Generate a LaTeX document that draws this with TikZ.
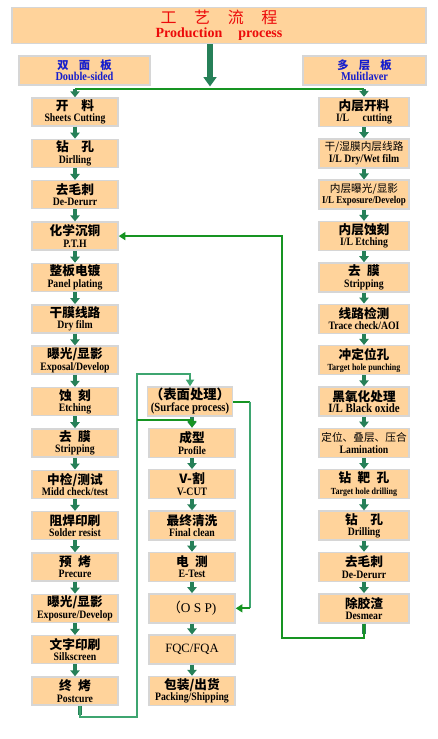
\documentclass[tikz,border=0pt]{standalone}
\usepackage{fontspec}
\setmainfont{Liberation Serif}
\newfontfamily\cnfont{Noto Sans CJK SC}
\newfontfamily\enfont{Liberation Serif}[FakeStretch=0.86]
\usetikzlibrary{calc,arrows.meta}

\definecolor{boxfill}{RGB}{255,211,155}
\definecolor{boxline}{RGB}{214,214,214}
\definecolor{flowgreen}{RGB}{38,128,88}
\definecolor{bargreen}{RGB}{22,148,34}
\definecolor{loopgreen}{RGB}{62,165,112}
\definecolor{titlered}{RGB}{236,10,10}
\definecolor{labelblue}{RGB}{22,30,205}

\newcommand{\cnthin}{\mdseries\fontsize{8}{8}\selectfont}
\newcommand{\ensmall}{\fontsize{7}{7}\selectfont}

\tikzset{
	stepbox/.style={draw=boxline, line width=1.1pt, fill=boxfill, minimum width=64.5pt, minimum height=21pt, inner sep=0pt, align=center, font=\fontsize{9.5}{8.5}\selectfont},
	labelbox/.style={stepbox, minimum width=98.25pt, minimum height=21.75pt, text=labelblue},
	flowarrow/.style={flowgreen, line width=3pt, -{Triangle[width=7pt,length=4.5pt]}},
	bigarrow/.style={flowgreen, line width=4.5pt, -{Triangle[width=9.5pt,length=7pt]}},
	barline/.style={bargreen, line width=1.5pt},
	loopline/.style={loopgreen, line width=1.5pt},
	looptip/.style={-{Triangle[width=6pt,length=5pt]}}
}

\begin{document}
\begin{tikzpicture}[x=0.75pt,y=-0.75pt]
	\useasboundingbox (0,0) rectangle (437,739);
	
	% given
	\pgfmathsetmacro{\rowTop}{112}% first row centre
	\pgfmathsetmacro{\pitch}{41.36}% row to row
	
	\node[stepbox, minimum width=310.5pt, minimum height=27pt, text=titlered, font=\fontsize{12}{10.5}\selectfont] (title) at (219,25.5)
		{{\cnfont 工\hspace{1.1em}艺\hspace{1.1em}流\hspace{1.1em}程}\\{\bfseries\fontsize{10.5}{10.5}\selectfont Production\hspace{12pt}process}};
	
	\node[labelbox] (dbl) at (84.5,70.5) {{\cnfont\bfseries\fontsize{8.5}{8.5}\selectfont 双\hspace{0.9em}面\hspace{0.9em}板}\\{\enfont\bfseries\fontsize{9}{9}\selectfont Double-sided}};
	\node[labelbox, minimum width=92.25pt] (mlb) at (364.5,70.5) {{\cnfont\bfseries\fontsize{8.5}{8.5}\selectfont 多\hspace{0.9em}层\hspace{0.9em}板}\\{\enfont\bfseries\fontsize{9}{9}\selectfont Mulitlaver}};
	
	% double-sided
	\foreach [count=\i] \zh/\eng in {
		{开\hspace{1em}料}/{Sheets Cutting},
		{钻\hspace{1em}孔}/{Dirlling},
		{去毛刺}/{De-Derurr},
		{化学沉铜}/{P.T.H},
		{整板电镀}/{Panel plating},
		{干膜线路}/{Dry film},
		{曝光/显影}/{Exposal/Develop},
		{蚀\hspace{0.5em}刻}/{Etching},
		{去\hspace{0.5em}膜}/{Stripping},
		{中检/测试}/{Midd check/test},
		{阻焊印刷}/{Solder resist},
		{预\hspace{0.5em}烤}/{Precure},
		{曝光/显影}/{Exposure/Develop},
		{文字印刷}/{Silkscreen},
		{终\hspace{0.5em}烤}/{Postcure}}
	{
		\node[stepbox] (L\i) at (75,{\rowTop+(\i-1)*\pitch}) {{\cnfont\bfseries\zh}\\{\enfont\bfseries\fontsize{8.5}{8.5}\selectfont\eng}};
	}
	
	% multilayer
	\foreach [count=\i] \zh/\eng in {
		{内层开料}/{I/L\hspace{1.2em}cutting},
		{\cnthin 干/湿膜内层线路}/{I/L Dry/Wet film},
		{\cnthin 内层曝光/显影}/{\fontsize{7.8}{7.8}\selectfont I/L Exposure/Develop},
		{内层蚀刻}/{I/L Etching},
		{去\hspace{0.5em}膜}/{Stripping},
		{线路检测}/{Trace check/AOI},
		{冲定位孔}/{\ensmall Target hole punching},
		{黑氧化处理}/{\fontsize{9.5}{9.5}\selectfont I/L Black oxide},
		{\cnthin 定位、叠层、压合}/{Lamination},
		{钻\hspace{0.5em}靶\hspace{0.5em}孔}/{\ensmall Target hole drilling},
		{钻\hspace{1em}孔}/{Drilling},
		{去毛刺}/{De-Derurr},
		{除胶渣}/{Desmear}}
	{
		\node[stepbox, minimum width=67.5pt, minimum height=21.75pt] (R\i) at (364,{\rowTop+(\i-1)*\pitch}) {{\cnfont\bfseries\zh}\\{\enfont\bfseries\fontsize{8.5}{8.5}\selectfont\eng}};
	}
	
	% finishing
	\node[stepbox, minimum width=63.75pt, minimum height=21.75pt, font=\fontsize{10}{9}\selectfont] (M1) at (190,{\rowTop+7*\pitch}) {{\cnfont\bfseries （表面处理）}\\{\enfont\bfseries\fontsize{9.3}{9.3}\selectfont (Surface process)}};
	\node[stepbox, minimum height=21.75pt] (M2) at (192,{\rowTop+8*\pitch}) {{\cnfont\bfseries 成型}\\{\enfont\bfseries\fontsize{8.5}{8.5}\selectfont Profile}};
	\node[stepbox, minimum height=21.75pt] (M3) at (192,{\rowTop+9*\pitch}) {{\cnfont\bfseries V-割}\\{\enfont\bfseries\fontsize{8.5}{8.5}\selectfont V-CUT}};
	\node[stepbox, minimum height=21.75pt] (M4) at (192,{\rowTop+10*\pitch}) {{\cnfont\bfseries 最终清洗}\\{\enfont\bfseries\fontsize{8.5}{8.5}\selectfont Final clean}};
	\node[stepbox, minimum height=21.75pt] (M5) at (192,{\rowTop+11*\pitch}) {{\cnfont\bfseries 电\hspace{0.5em}测}\\{\enfont\bfseries\fontsize{8.5}{8.5}\selectfont E-Test}};
	\node[stepbox, minimum height=21.75pt] (M6) at (192,{\rowTop+12*\pitch}) {{\cnfont\fontsize{10}{10}\selectfont （}{\fontsize{10}{10}\selectfont O S P)}};
	\node[stepbox, minimum height=21.75pt] (M7) at (192,{\rowTop+13*\pitch}) {{\fontsize{9.5}{9.5}\selectfont FQC/FQA}};
	\node[stepbox, minimum height=21.75pt] (M8) at (192,{\rowTop+14*\pitch}) {{\cnfont\bfseries 包装/出货}\\{\enfont\bfseries\fontsize{8.5}{8.5}\selectfont Packing/Shipping}};
	
	% computed
	\coordinate (drop) at (210,89);
	\coordinate (cureDrop) at ($(L15.south)+(5,0)$);
	\coordinate (cureBend) at (137,717);
	\coordinate (surfTop) at (137,374);
	\coordinate (skip) at (137,420);
	\coordinate (sideTop) at ($(M1.east)+(17,0)$);
	\coordinate (sideBot) at (sideTop |- M6.east);
	\coordinate (desDrop) at ($(R13.south)+(0,14)$);
	\coordinate (backUp) at (282,0);
	
	\draw[bigarrow] (title.south -| drop) -- ($(drop)+(0,-2.5)$);
	\draw[barline] (L1.north |- drop) -- (R1.north |- drop);
	\draw[flowarrow] (L1.north |- drop) -- (L1.north);
	\draw[flowarrow] (R1.north |- drop) -- (R1.north);
	
	\foreach \i [evaluate=\i as \j using int(\i+1)] in {1,...,14}
		\draw[flowarrow] (L\i) -- (L\j);
	\foreach \i [evaluate=\i as \j using int(\i+1)] in {1,...,12}
		\draw[flowarrow] (R\i) -- (R\j);
	\foreach \i [evaluate=\i as \j using int(\i+1)] in {1,...,7}
		\draw[flowarrow] (M\i.south -| M2.north) -- (M\j.north);
	
	% back loops
	\draw[flowgreen, line width=3pt] (cureDrop) -- ++(0,9);
	\draw[loopline, looptip] (cureDrop) |- (cureBend) -- (surfTop) -| (M1.north);
	\draw[barline, looptip] (skip) -| (M2.north);
	
	\draw[barline] (M1.east) -- (sideTop);
	\draw[loopline] (sideTop) -- (sideBot);
	\draw[barline, looptip] (sideBot) -- (M6.east);
	
	\draw[flowgreen, line width=3pt] (R13.south) -- ++(0,10);
	\draw[barline, looptip] (R13.south) -- (desDrop) -| (backUp |- L4.east) -- (L4.east);
\end{tikzpicture}
\end{document}
